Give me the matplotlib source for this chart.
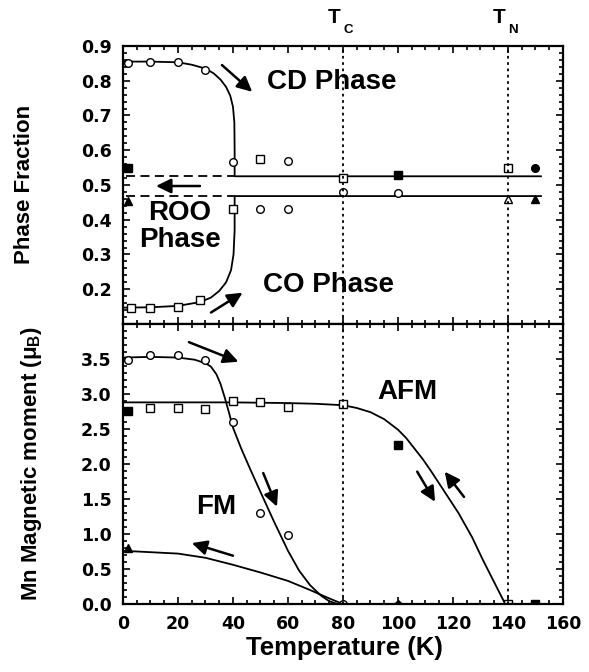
import matplotlib
matplotlib.use("Agg")
import matplotlib.pyplot as plt
from matplotlib.ticker import MultipleLocator
from matplotlib import font_manager

plt.rcParams['font.family'] = ['Liberation Sans', 'DejaVu Sans']
plt.rcParams['font.weight'] = 'bold'
plt.rcParams['mathtext.default'] = 'regular'

_names = {f.name for f in font_manager.fontManager.ttflist}
if 'Liberation Sans Narrow' in _names:
    LABEL_FAMILY, LABEL_SIZE = ['Liberation Sans Narrow', 'DejaVu Sans'], 19.5
else:
    LABEL_FAMILY, LABEL_SIZE = ['Liberation Sans', 'DejaVu Sans'], 16
TICK_FAMILY = 'DejaVu Sans'

# ---------------- phase fraction (upper panel) ----------------
cd_circle_T = [2, 10, 20, 30, 40, 60]
cd_circle_f = [0.852, 0.855, 0.853, 0.830, 0.565, 0.570]
cd_square_T = [50, 80, 140]
cd_square_f = [0.575, 0.520, 0.550]
co_square_T = [3, 10, 20, 28, 40]
co_square_f = [0.147, 0.147, 0.150, 0.168, 0.432]
co_circle_T = [50, 60, 80, 100]
co_circle_f = [0.430, 0.432, 0.480, 0.478]
co_tri_open_T = [140]
co_tri_open_f = [0.460]
filled_sq_T = [2, 100]
filled_sq_f = [0.550, 0.530]
filled_circ_T = [150]
filled_circ_f = [0.550]
filled_tri_T = [2, 150]
filled_tri_f = [0.455, 0.460]

# guide curves through the phase fractions
cd_curve_T = [0, 10, 20, 25, 30, 33, 35.5, 37.5, 39, 40, 40.5, 40.6, 40.6, 152]
cd_curve_f = [0.855, 0.855, 0.853, 0.846, 0.835, 0.821, 0.803, 0.782, 0.757, 0.725, 0.68, 0.60, 0.525, 0.525]
co_curve_T = [0, 10, 20, 28, 32, 35, 37.5, 39.3, 40.2, 40.6, 40.6, 152]
co_curve_f = [0.147, 0.148, 0.152, 0.163, 0.176, 0.195, 0.22, 0.255, 0.30, 0.37, 0.468, 0.468]
roo_T = [1, 40.6]
roo_upper = [0.525, 0.525]
roo_lower = [0.468, 0.468]

# ---------------- magnetic moment (lower panel) ----------------
fm_T = [2, 10, 20, 30, 40, 50, 60, 80]
fm_m = [3.48, 3.56, 3.55, 3.48, 2.60, 1.30, 0.98, 0.00]
afm_T = [10, 20, 30, 40, 50, 60, 80, 140]
afm_m = [2.80, 2.80, 2.79, 2.90, 2.88, 2.82, 2.86, 0.00]
afm_fill_T = [2, 100, 150]
afm_fill_m = [2.75, 2.27, 0.00]
fm2_fill_T = [2]
fm2_fill_m = [0.80]
zero_fill_T = [100]
zero_fill_m = [0.00]

fm_curve_T = [0, 10, 20, 26, 30, 32, 34, 35.5, 37, 38.5, 40, 43, 46, 50, 55, 60, 64, 68, 72, 75, 78]
fm_curve_m = [3.52, 3.53, 3.52, 3.49, 3.44, 3.39, 3.28, 3.14, 2.95, 2.74, 2.52, 2.22, 1.95, 1.60, 1.17, 0.76, 0.48, 0.27, 0.12, 0.04, 0.0]
afm_curve_T = [0, 40, 60, 70, 80, 85, 90, 95, 100, 103, 106, 109, 112, 117, 122, 127, 131, 135, 139]
afm_curve_m = [2.88, 2.88, 2.87, 2.86, 2.84, 2.80, 2.74, 2.64, 2.49, 2.37, 2.22, 2.07, 1.90, 1.60, 1.30, 0.95, 0.62, 0.31, 0.0]
fm2_curve_T = [0, 10, 20, 30, 40, 50, 60, 68, 75, 80]
fm2_curve_m = [0.76, 0.74, 0.72, 0.66, 0.56, 0.45, 0.33, 0.20, 0.08, 0.0]

T_C = 80
T_N = 140

fig = plt.figure(figsize=(5.89, 6.72), dpi=100)
ax1 = fig.add_axes([0.2088, 0.5179, 0.747, 0.4137])
ax2 = fig.add_axes([0.2088, 0.1012, 0.747, 0.4167])

lw = 1.3
mk = dict(markersize=5.5, markeredgewidth=1.0, markeredgecolor='black', linestyle='none')

# upper panel
ax1.plot(cd_curve_T, cd_curve_f, color='black', lw=lw)
ax1.plot(co_curve_T, co_curve_f, color='black', lw=lw)
ax1.plot(roo_T, roo_upper, color='black', lw=lw, ls=(0, (5, 3)))
ax1.plot(roo_T, roo_lower, color='black', lw=lw, ls=(0, (5, 3)))
ax1.plot(cd_circle_T, cd_circle_f, marker='o', markerfacecolor='white', **mk)
ax1.plot(cd_square_T, cd_square_f, marker='s', markerfacecolor='white', **mk)
ax1.plot(co_square_T, co_square_f, marker='s', markerfacecolor='white', **mk)
ax1.plot(co_circle_T, co_circle_f, marker='o', markerfacecolor='white', **mk)
ax1.plot(co_tri_open_T, co_tri_open_f, marker='^', markerfacecolor='white', **mk)
ax1.plot(filled_sq_T, filled_sq_f, marker='s', markerfacecolor='black', **mk)
ax1.plot(filled_circ_T, filled_circ_f, marker='o', markerfacecolor='black', **mk)
ax1.plot(filled_tri_T, filled_tri_f, marker='^', markerfacecolor='black', **mk)

# lower panel
ax2.plot(fm_curve_T, fm_curve_m, color='black', lw=lw)
ax2.plot(afm_curve_T, afm_curve_m, color='black', lw=lw)
ax2.plot(fm2_curve_T, fm2_curve_m, color='black', lw=lw)
ax2.plot(fm_T, fm_m, marker='o', markerfacecolor='white', **mk)
ax2.plot(afm_T, afm_m, marker='s', markerfacecolor='white', **mk)
ax2.plot(afm_fill_T, afm_fill_m, marker='s', markerfacecolor='black', **mk)
ax2.plot(fm2_fill_T, fm2_fill_m, marker='^', markerfacecolor='black', **mk)
ax2.plot(zero_fill_T, zero_fill_m, marker='D', markerfacecolor='black', markersize=4,
         markeredgecolor='black', linestyle='none')

for ax in (ax1, ax2):
    ax.axvline(T_C, color='black', lw=1.3, ls=(0, (1.5, 2.0)))
    ax.axvline(T_N, color='black', lw=1.3, ls=(0, (1.5, 2.0)))
    ax.set_xlim(0, 160)
    ax.xaxis.set_major_locator(MultipleLocator(20))
    ax.xaxis.set_minor_locator(MultipleLocator(5))
    ax.tick_params(which='both', direction='in', top=True, right=True, width=1.2)
    ax.tick_params(which='major', length=5)
    ax.tick_params(which='minor', length=3)
    ax.tick_params(axis='y', pad=8)
    ax.tick_params(axis='x', pad=8)
    for s in ax.spines.values():
        s.set_linewidth(1.6)

tick_font = dict(family=TICK_FAMILY, fontweight='bold', fontsize=12.5)

ax1.set_ylim(0.1, 0.9)
ax1.set_yticks([0.2, 0.3, 0.4, 0.5, 0.6, 0.7, 0.8, 0.9])
ax1.set_yticklabels(['0.2', '0.3', '0.4', '0.5', '0.6', '0.7', '0.8', '0.9'], **tick_font)
ax1.yaxis.set_minor_locator(MultipleLocator(0.02))
ax1.tick_params(labelbottom=False)

ax2.set_ylim(0, 4.0)
ax2.set_yticks([0.0, 0.5, 1.0, 1.5, 2.0, 2.5, 3.0, 3.5])
ax2.set_yticklabels(['0.0', '0.5', '1.0', '1.5', '2.0', '2.5', '3.0', '3.5'], **tick_font)
ax2.yaxis.set_minor_locator(MultipleLocator(0.1))
ax2.set_xticks([0, 20, 40, 60, 80, 100, 120, 140, 160])
ax2.set_xticklabels(['0', '20', '40', '60', '80', '100', '120', '140', '160'], **tick_font)

# annotations, upper panel
big = dict(fontsize=20, fontweight='bold')
ax1.text(52.5, 0.797, 'CD Phase', va='center', ha='left', **big)
ax1.text(51, 0.213, 'CO Phase', va='center', ha='left', **big)
ax1.text(20.7, 0.42, 'ROO', va='center', ha='center', **big)
ax1.text(20.7, 0.343, 'Phase', va='center', ha='center', **big)

arrow = dict(arrowstyle='-|>,head_length=0.45,head_width=0.22', color='black', lw=1.8,
             mutation_scale=20, shrinkA=0, shrinkB=0)
ax1.annotate('', xy=(47, 0.768), xytext=(36, 0.845), arrowprops=arrow)
ax1.annotate('', xy=(43.5, 0.19), xytext=(32, 0.133), arrowprops=arrow)
ax1.annotate('', xy=(12, 0.497), xytext=(28, 0.497), arrowprops=arrow)

# annotations, lower panel
ax2.text(34, 1.39, 'FM', va='center', ha='center', **big)
ax2.text(103.6, 3.03, 'AFM', va='center', ha='center', **big)
ax2.annotate('', xy=(42, 3.46), xytext=(24, 3.74), arrowprops=arrow)
ax2.annotate('', xy=(56, 1.39), xytext=(51, 1.87), arrowprops=arrow)
ax2.annotate('', xy=(25, 0.87), xytext=(40, 0.69), arrowprops=arrow)
ax2.annotate('', xy=(113.5, 1.46), xytext=(107, 1.89), arrowprops=arrow)
ax2.annotate('', xy=(117, 1.89), xytext=(124, 1.53), arrowprops=arrow)

# transition temperature labels above the plot
for Tval, sub in ((T_C, 'C'), (T_N, 'N')):
    ax1.annotate('T', xy=(Tval, 0.9), xycoords='data', xytext=(-6.5, 13.5),
                 textcoords='offset points', fontsize=15, fontweight='bold',
                 ha='center', va='bottom', annotation_clip=False)
    ax1.annotate(sub, xy=(Tval, 0.9), xycoords='data', xytext=(3.5, 7.5),
                 textcoords='offset points', fontsize=9.5, fontweight='bold',
                 ha='center', va='bottom', annotation_clip=False)

fig.text(0.042, 0.725, 'Phase Fraction', rotation=90, fontsize=LABEL_SIZE,
         family=LABEL_FAMILY, fontweight='bold', ha='center', va='center')
fig.text(0.054, 0.31, r'Mn Magnetic moment ($\mu_B$)', rotation=90, fontsize=LABEL_SIZE,
         family=LABEL_FAMILY, fontweight='bold', ha='center', va='center')
fig.text(0.585, 0.026, 'Temperature (K)', fontsize=18.5, fontweight='bold',
         ha='center', va='baseline')

fig.savefig('out.png', dpi=100)
